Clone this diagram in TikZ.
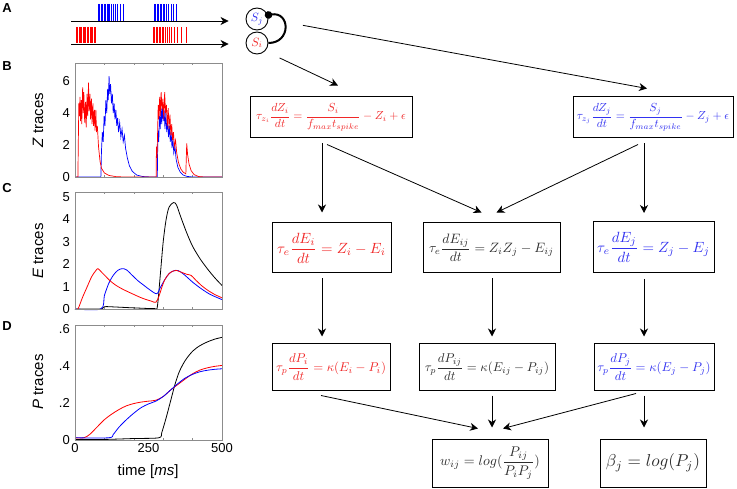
\documentclass[tikz,border=0pt]{standalone}
\usepackage{fontspec}
\usepackage{graphicx}
\newfontfamily\plotfont{Liberation Sans}
\newcommand{\eqsc}[2]{\scalebox{#1}{$\displaystyle #2$}}
\usetikzlibrary{arrows.meta,calc}
\begin{document}
\begin{tikzpicture}[x=1pt,y=-1pt]
    \definecolor{axgray}{rgb}{0.55, 0.55, 0.55};
    \definecolor{eqred}{RGB}{240,40,40};
    \definecolor{eqblue}{RGB}{50,50,240};
    \definecolor{eqgray}{RGB}{45,45,45};
\useasboundingbox (0,0) rectangle (737,489);
\tikzstyle{panel}=[font=\plotfont\fontsize{13}{13}\bfseries\selectfont,inner sep=0pt]
\tikzstyle{ticklab}=[font=\plotfont\fontsize{13}{13}\selectfont,inner sep=0pt]
\tikzstyle{axlab}=[font=\plotfont\fontsize{15}{15}\selectfont,inner sep=0pt,rotate=90]
\tikzstyle{eqbox}=[draw=black,line width=1pt,inner sep=1pt]
\tikzstyle{arr}=[line width=0.8pt,-{Stealth[length=8pt,width=8pt,inset=2.5pt]}]
\tikzstyle{spk}=[line width=0.6pt]
\node [panel] (labA) at (7,8) {A};
\node [panel] (labB) at (7,66) {B};
\node [panel] (labC) at (7,188) {C};
\node [panel] (labD) at (7,326) {D};
% spike trains
\foreach \s in {98,99.5,101,102.5,104,105.5,107,108,109.5,111,113,115,117,120,123,
                154,155.5,157,158.5,160,161.5,163,164.5,166,168,171,173,176} {
    \draw[spk,blue] (\s,4)--(\s,21);
  }
\foreach \s in {76,77.5,79,80.2,81.5,83,84.2,85.5,87,88.5,90,91.2,92.5,94,95.5,
                153,154.5,156,157.5,159,160.5,162,163.5,165,167,169,171,174,177,181,186} {
    \draw[spk,red] (\s,27)--(\s,43.5);
  }
\node [draw,circle,line width=0.9pt,minimum size=22pt,inner sep=0pt] (Sj) at (257,19) {\eqsc{1.2}{\color{eqblue}S_j}};
\node [draw,circle,line width=0.9pt,minimum size=22pt,inner sep=0pt] (Si) at (257,43) {\eqsc{1.2}{\color{eqred}S_i}};
\coordinate (jstart) at (71,21);
\coordinate (istart) at (71,44);
\draw [arr] (jstart) -- (jstart -| Sj.west) [shorten >=17pt];
\draw [arr] (istart) -- (istart -| Si.west) [shorten >=17pt];
\draw [line width=2pt,-{Circle[length=7.5pt]},shorten >=-3pt] (Si.east) to[out=0,in=10,looseness=2.1] (Sj.20);
% equations
\node [eqbox,minimum width=162pt,minimum height=41pt,text=eqred] (Zi) at (331,117.5)
  {\eqsc{1.17}{\tau_{z_i}\frac{dZ_i}{dt}=\frac{S_i}{f_{max}t_{spike}}-Z_i+\epsilon}};
\node [eqbox,minimum width=160pt,minimum height=41pt,text=eqblue] (Zj) at (653,117.5)
  {\eqsc{1.17}{\tau_{z_j}\frac{dZ_j}{dt}=\frac{S_j}{f_{max}t_{spike}}-Z_j+\epsilon}};
\node [eqbox,minimum width=119pt,minimum height=50pt,text=eqred] (Ei) at (331.5,248)
  {\eqsc{1.48}{\tau_e\frac{dE_i}{dt}=Z_i-E_i}};
\node [eqbox,minimum width=137pt,minimum height=50pt,text=eqgray] (Eij) at (491.5,248)
  {\eqsc{1.36}{\tau_e\frac{dE_{ij}}{dt}=Z_iZ_j-E_{ij}}};
\node [eqbox,minimum width=121pt,minimum height=51pt,text=eqblue] (Ej) at (653.5,247)
  {\eqsc{1.48}{\tau_e\frac{dE_j}{dt}=Z_j-E_j}};
\node [eqbox,minimum width=118pt,minimum height=46pt,text=eqred] (Pi) at (331,367)
  {\eqsc{1.28}{\tau_p\frac{dP_i}{dt}=\kappa(E_i-P_i)}};
\node [eqbox,minimum width=136pt,minimum height=46pt,text=eqgray] (Pij) at (487,367)
  {\eqsc{1.28}{\tau_p\frac{dP_{ij}}{dt}=\kappa(E_{ij}-P_{ij})}};
\node [eqbox,minimum width=120pt,minimum height=46pt,text=eqblue] (Pj) at (654,367)
  {\eqsc{1.28}{\tau_p\frac{dP_j}{dt}=\kappa(E_j-P_j)}};
\node [eqbox,minimum width=116pt,minimum height=48pt,text=eqgray] (w) at (490,463)
  {\eqsc{1.4}{w_{ij}=log(\frac{P_{ij}}{P_iP_j})}};
\node [eqbox,minimum width=106pt,minimum height=48pt,text=eqgray] (beta) at (653,463)
  {\eqsc{1.72}{\textstyle\beta_j=log(P_j)}};
\coordinate (colI) at (322,0);
\coordinate (colIJ) at (492,0);
\coordinate (colJ) at (644,0);
\draw [arr,shorten <=35pt] (Sj.east) -- ($(Zj.north)+(-6,-8)$);
\draw [arr,shorten <=16pt] (Si.south east) -- ($(Zi.north)+(7,-11)$);
\draw [arr,shorten <=5pt,shorten >=10pt] (Zi.south -| colI) -- (Ei.north -| colI);
\draw [arr] ($(Zi.south)+(-4,6)$) -- ($(Eij.north)+(-10,-10)$);
\draw [arr] ($(Zj.south)+(-15,6)$) -- ($(Eij.north)+(5,-10)$);
\draw [arr,shorten <=5pt,shorten >=8pt] (Zj.south -| colJ) -- (Ej.north -| colJ);
\draw [arr,shorten <=5pt,shorten >=7pt] (Ei.south -| colI) -- (Pi.north -| colI);
\draw [arr,shorten <=5pt,shorten >=7pt] (Eij.south -| colIJ) -- (Pij.north -| colIJ);
\draw [arr,shorten <=6pt,shorten >=7pt] (Ej.south -| colJ) -- (Pj.north -| colJ);
\draw [arr] ($(Pi.south)+(-10,5)$) -- ($(w.north)+(-12,-10)$);
\draw [arr,shorten <=5pt,shorten >=11pt] (Pij.south -| colIJ) -- (w.north -| colIJ);
\draw [arr] ($(Pj.south)+(-18,3)$) -- ($(w.north)+(13,-10)$);
\draw [arr,shorten <=5pt,shorten >=11pt] (Pj.south -| colJ) -- (beta.north -| colJ);
% axis labels
\node [axlab] (ylabZ) at (38,120) {\textit{Z} traces};
\node [axlab] (ylabE) at (38,251) {\textit{E} traces};
\node [axlab] (ylabP) at (38,382) {\textit{P} traces};
\node [font=\plotfont\fontsize{15}{15}\selectfont,inner sep=0pt] (xlab) at (148,472) {time [\textit{ms}]};
% B: Z traces
\begin{scope}[shift={(75,177)},x=0.294pt,y=16pt]
\foreach \t in {100,200,300,400} {
    \draw[axgray,line width=0.4pt] (\t,0)--(\t,0.15);
    \draw[axgray,line width=0.4pt] (\t,7.13)--(\t,6.98);
  }
\foreach \v in {0,2,4,6} {
    \node [ticklab,anchor=east,xshift=-5pt] at (0,\v) {\v};
  }
\draw[blue,line width=0.7pt] plot coordinates {(0,0) (88,0) (90,1.6) (93,2.8) (96,2.2) (99,3.8) (102,3.2) (105,4.8) (108,4.0) (111,5.5) (113,4.8) (116,6.3) (118,5.2) (121,5.8) (124,4.6) (127,5.2) (130,4.0) (133,4.6) (136,3.6) (139,4.2) (142,3.2) (145,3.7) (148,2.8) (152,3.4) (156,2.5) (160,3.0) (164,2.2) (168,2.6) (172,1.8) (178,1.2) (185,0.7) (195,0.35) (210,0.12) (230,0.03) (260,0) (280,0) (281,1.5) (283,2.9) (285,2.2) (287,3.8) (290,3.0) (292,4.3) (295,3.3) (297,4.6) (300,3.5) (303,4.2) (306,3.0) (309,4.0) (312,2.8) (315,3.6) (318,2.5) (321,3.2) (324,2.2) (327,2.8) (330,1.8) (333,2.4) (336,1.5) (340,1.9) (344,1.1) (350,0.6) (358,0.3) (368,0.12) (380,0.04) (400,0) (500,0)};
\draw[red,line width=0.7pt] plot coordinates {(0,0) (10,0) (11,1.8) (13,4.6) (15,3.8) (17,5.0) (19,3.5) (21,4.8) (23,3.3) (26,5.6) (28,4.0) (30,5.3) (33,3.4) (36,4.7) (38,3.1) (41,5.2) (43,3.8) (46,5.9) (48,4.1) (51,5.2) (53,3.6) (56,4.9) (58,3.3) (61,4.6) (63,3.2) (66,4.2) (68,2.9) (71,4.2) (73,2.8) (76,3.2) (80,1.9) (85,1.0) (90,0.55) (100,0.25) (115,0.1) (140,0.02) (170,0) (276,0) (277,1.9) (279,1.2) (281,2.8) (283,4.5) (285,3.6) (288,5.0) (290,3.8) (293,5.3) (296,4.2) (299,4.9) (302,3.6) (305,5.3) (308,4.0) (311,4.5) (314,3.2) (317,4.3) (320,3.0) (323,3.9) (326,2.6) (329,3.3) (332,2.3) (335,2.8) (338,1.9) (342,2.3) (346,1.5) (352,0.9) (360,0.5) (368,0.3) (377,0.2) (380,2.1) (383,1.4) (388,0.8) (395,0.4) (405,0.15) (420,0.03) (440,0) (500,0)};
\draw[axgray,line width=0.6pt] (0,0) rectangle (500,7.13);
\end{scope}
% C: E traces
\begin{scope}[shift={(75,309)},x=0.294pt,y=22.4pt]
\foreach \t in {100,200,300,400} {
    \draw[axgray,line width=0.4pt] (\t,0)--(\t,0.1);
    \draw[axgray,line width=0.4pt] (\t,5.22)--(\t,5.12);
  }
\foreach \v in {0,...,5} {
    \node [ticklab,anchor=east,xshift=-5pt] at (0,\v) {\v};
  }
\draw[black,line width=0.8pt] plot[smooth,tension=0.5] coordinates {(0,0) (85,0) (100,0.1) (120,0.1) (200,0.05) (270,0.02) (280,0.1) (290,1.5) (300,3.0) (310,4.0) (320,4.55) (335,4.75) (345,4.65) (360,4.1) (380,3.4) (400,2.8) (425,2.25) (450,1.8) (475,1.4) (500,1.05)};
\draw[blue,line width=0.8pt] plot[smooth,tension=0.5] coordinates {(0,0) (88,0) (100,0.6) (115,1.15) (130,1.5) (145,1.72) (160,1.8) (175,1.75) (195,1.5) (215,1.25) (235,1.05) (255,0.85) (278,0.68) (290,0.95) (305,1.3) (320,1.58) (335,1.7) (350,1.72) (370,1.55) (400,1.2) (430,0.9) (460,0.65) (500,0.42)};
\draw[red,line width=0.8pt] plot[smooth,tension=0.5] coordinates {(0,0) (10,0) (25,0.5) (40,0.95) (57,1.45) (70,1.7) (78,1.8) (90,1.65) (105,1.45) (120,1.25) (140,1.05) (160,0.9) (180,0.77) (200,0.65) (220,0.53) (240,0.43) (260,0.35) (275,0.3) (285,0.55) (295,0.95) (305,1.3) (320,1.58) (335,1.7) (345,1.72) (360,1.65) (380,1.55) (395,1.5) (410,1.3) (430,1.05) (450,0.85) (475,0.65) (500,0.5)};
\draw[axgray,line width=0.6pt] (0,0) rectangle (500,5.22);
\end{scope}
% D: P traces
\begin{scope}[shift={(75,440)},x=0.294pt,y=185pt]
\foreach \t in {100,200,300,400} {
    \draw[axgray,line width=0.4pt] (\t,0)--(\t,0.012);
    \draw[axgray,line width=0.4pt] (\t,0.622)--(\t,0.61);
  }
\node [ticklab,anchor=east,xshift=-5pt] at (0,0) {0};
\node [ticklab,anchor=east,xshift=-5pt] at (0,0.2) {.2};
\node [ticklab,anchor=east,xshift=-5pt] at (0,0.4) {.4};
\node [ticklab,anchor=east,xshift=-5pt] at (0,0.6) {.6};
\node [ticklab,anchor=north,yshift=-3pt] at (0,0) {0};
\node [ticklab,anchor=north,yshift=-3pt] at (250,0) {250};
\node [ticklab,anchor=north,yshift=-3pt] at (500,0) {500};
\draw[black,line width=0.8pt] plot[smooth,tension=0.5] coordinates {(0,0.002) (100,0.003) (200,0.008) (285,0.012) (295,0.04) (310,0.12) (325,0.21) (340,0.3) (355,0.37) (375,0.43) (400,0.48) (425,0.51) (450,0.53) (475,0.545) (500,0.555)};
\draw[red,line width=0.8pt] plot[smooth,tension=0.5] coordinates {(0,0.012) (30,0.012) (50,0.03) (75,0.07) (100,0.11) (125,0.14) (150,0.165) (175,0.185) (200,0.197) (225,0.205) (250,0.21) (275,0.215) (300,0.235) (325,0.27) (350,0.3) (375,0.33) (400,0.358) (425,0.378) (450,0.39) (475,0.398) (500,0.403)};
\draw[blue,line width=0.8pt] plot[smooth,tension=0.5] coordinates {(0,0.012) (115,0.012) (130,0.03) (150,0.07) (175,0.11) (200,0.145) (225,0.175) (250,0.195) (275,0.21) (300,0.235) (325,0.27) (350,0.305) (375,0.335) (400,0.355) (425,0.369) (450,0.377) (475,0.382) (500,0.385)};
\draw[axgray,line width=0.6pt] (0,0) rectangle (500,0.622);
\end{scope}
\end{tikzpicture}
\end{document}
